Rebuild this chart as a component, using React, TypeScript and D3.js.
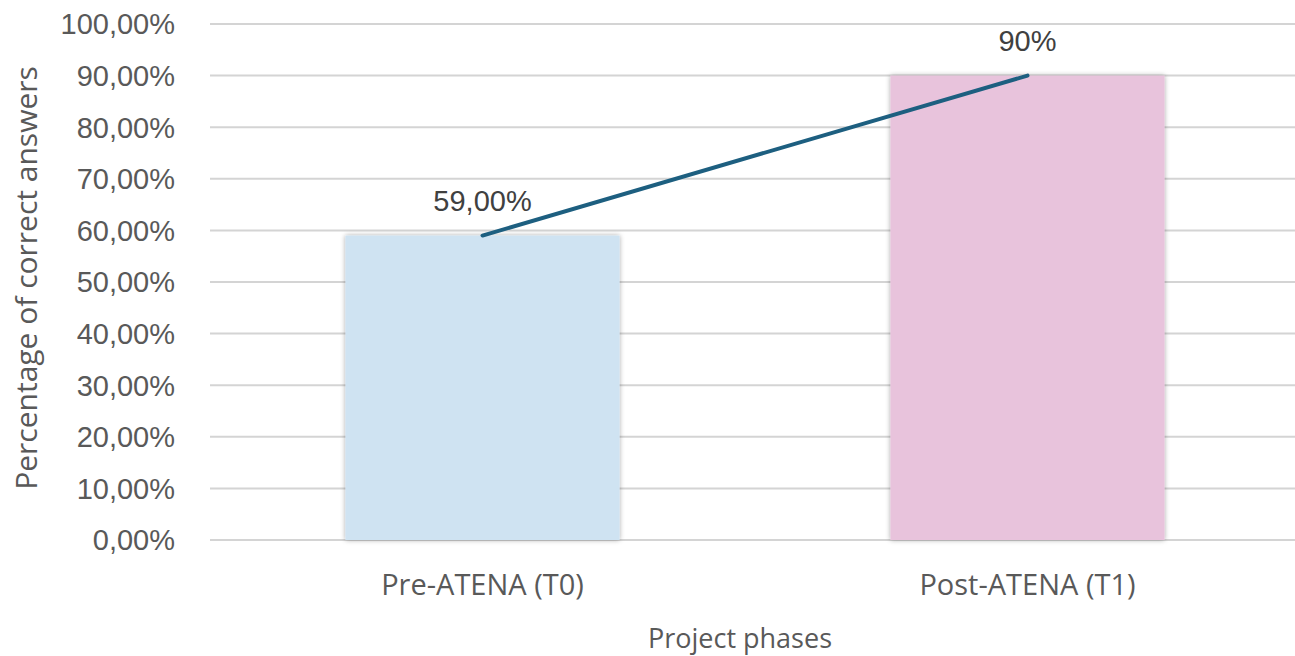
import React from 'react';
import * as d3 from 'd3';

const categories = ['Pre-ATENA (T0)', 'Post-ATENA (T1)'];
const values = [0.59, 0.9];
const valueLabels = ['59,00%', '90%'];
const yTicks = [0, 0.1, 0.2, 0.3, 0.4, 0.5, 0.6, 0.7, 0.8, 0.9, 1.0];
const barColors = ['#cfe3f2', '#e8c3dc'];

const W = 1295;
const H = 656;
const margin = { top: 24, right: -5, bottom: 116, left: 210 };

const fmt = (v: number) => (v * 100).toFixed(2).replace('.', ',') + '%';

const App: React.FC = () => {
  const x = d3
    .scaleBand<string>()
    .domain(categories)
    .range([margin.left, W - margin.right])
    .paddingInner(0.497)
    .paddingOuter(0.2485);

  const y = d3
    .scaleLinear()
    .domain([0, 1])
    .range([H - margin.bottom, margin.top]);

  const cx = (c: string) => (x(c) || 0) + x.bandwidth() / 2;

  const line = d3
    .line<number>()
    .x((_, i) => cx(categories[i]))
    .y(d => y(d));

  return (
    <svg width={W} height={H} style={{ position: 'absolute', left: 0, top: 0, background: '#fff' }}>
      <defs>
        <filter id="shadow" x="-10%" y="-10%" width="120%" height="120%">
          <feDropShadow dx="0" dy="0" stdDeviation="2.5" floodColor="#000" floodOpacity="0.35" />
        </filter>
      </defs>
      {yTicks.map(t => (
        <g key={t}>
          <line x1={margin.left} x2={W} y1={y(t)} y2={y(t)} stroke="#d4d4d4" strokeWidth={2} />
          <text
            x={175}
            y={y(t)}
            dy="0.36em"
            textAnchor="end"
            fontFamily="Liberation Sans, Arial, sans-serif"
            fontSize={29}
            fill="#595959"
          >
            {fmt(t)}
          </text>
        </g>
      ))}
      {categories.map((c, i) => (
        <rect
          key={c}
          x={x(c)}
          y={y(values[i])}
          width={x.bandwidth()}
          height={y(0) - y(values[i])}
          fill={barColors[i]}
          filter="url(#shadow)"
        />
      ))}
      <path d={line(values) || ''} fill="none" stroke="#1d5f80" strokeWidth={4} strokeLinecap="round" />
      {categories.map((c, i) => (
        <text
          key={c + 'l'}
          x={cx(c)}
          y={y(values[i]) - 25}
          textAnchor="middle"
          fontFamily="Liberation Sans, Arial, sans-serif"
          fontSize={29}
          fill="#404040"
        >
          {valueLabels[i]}
        </text>
      ))}
      {categories.map(c => (
        <text
          key={c + 'x'}
          x={cx(c)}
          y={595}
          textAnchor="middle"
          fontFamily="Open Sans, sans-serif"
          fontSize={29}
          fill="#595959"
        >
          {c}
        </text>
      ))}
      <text
        x={740}
        y={648}
        textAnchor="middle"
        fontFamily="Open Sans, sans-serif"
        fontSize={27}
        fill="#595959"
      >
        Project phases
      </text>
      <text
        transform={`translate(37, ${(y(0) + y(1)) / 2 - 4}) rotate(-90)`}
        textAnchor="middle"
        fontFamily="Open Sans, sans-serif"
        fontSize={30}
        fill="#595959"
      >
        Percentage of correct answers
      </text>
    </svg>
  );
};

export default App;
